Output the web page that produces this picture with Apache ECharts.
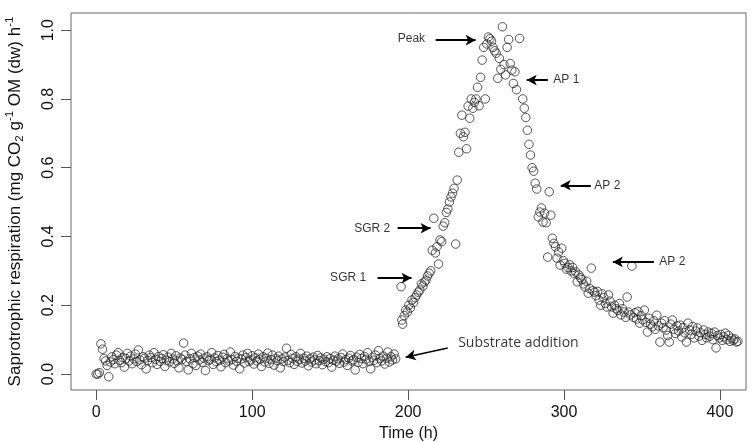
<!DOCTYPE html>
<html><head><meta charset="utf-8">
<script src="https://cdn.jsdelivr.net/npm/echarts@6/dist/echarts.min.js"></script>
<style>html,body{margin:0;padding:0;background:#fff}#c{width:753px;height:443px}</style>
</head><body><div id="c"></div>
<script>
// Axis ticks
const xTicks = [0, 100, 200, 300, 400];
const yTicks = [0, 0.2, 0.4, 0.6, 0.8, 1.0];

// Baseline (hourly, from t = 0 h), values in mg CO2 g-1 OM (dw) h-1
const baselineValues = [
  0.000, 0.000, 0.004,
  0.088, 0.072, 0.045, 0.038, 0.025, -0.008, 0.035, 0.050, 0.042, 0.030,
  0.055, 0.062, 0.040, 0.033, 0.048, 0.020, 0.045, 0.060, 0.038, 0.052,
  0.030, 0.044, 0.058, 0.036, 0.070, 0.041, 0.027, 0.050, 0.046, 0.015,
  0.039, 0.055, 0.048, 0.033, 0.062, 0.043, 0.028, 0.051, 0.037, 0.045,
  0.056, 0.022, 0.040, 0.049, 0.035, 0.060, 0.044, 0.031, 0.053, 0.038,
  0.018, 0.047, 0.042, 0.090, 0.055, 0.036, 0.012, 0.044, 0.060, 0.030,
  0.048, 0.025, 0.052, 0.041, 0.058, 0.034, 0.046, 0.010, 0.050, 0.039,
  0.043, 0.062, 0.028, 0.047, 0.036, 0.054, 0.040, 0.021, 0.049, 0.057,
  0.033, 0.045, 0.038, 0.064, 0.042, 0.026, 0.051, 0.037, 0.046, 0.015,
  0.044, 0.055, 0.032, 0.048, 0.060, 0.036, 0.041, 0.053, 0.029, 0.047,
  0.038, 0.058, 0.043, 0.022, 0.050, 0.035, 0.046, 0.061, 0.031, 0.042,
  0.055, 0.026, 0.045, 0.039, 0.052, 0.018, 0.044, 0.036, 0.049, 0.075,
  0.040, 0.033, 0.057, 0.045, 0.028, 0.050, 0.037, 0.043, 0.060, 0.032,
  0.046, 0.038, 0.052, 0.024, 0.044, 0.035, 0.049, 0.041, 0.030, 0.054,
  0.039, 0.047, 0.027, 0.043, 0.036, 0.050, 0.033, 0.045, 0.020, 0.040,
  0.052, 0.037, 0.044, 0.031, 0.048, 0.058, 0.035, 0.042, 0.025, 0.046,
  0.054, 0.038, 0.041, 0.012, 0.049, 0.034, 0.057, 0.045, 0.030, 0.051,
  0.043, 0.062, 0.036, 0.015, 0.048, 0.040, 0.055, 0.033, 0.068, 0.045,
  0.038, 0.052, 0.029, 0.046, 0.064, 0.035, 0.050, 0.041, 0.058, 0.044
];

// Response after substrate addition: [time (h), value]
const risePoints = [
  [195.5,0.254],[196,0.157],[196.5,0.145],[197.5,0.170],[198.5,0.186],[199.5,0.180],
  [200.5,0.200],[201.5,0.192],[202.5,0.215],[203.5,0.208],[204.5,0.222],[205.5,0.230],
  [206.5,0.238],[207.5,0.244],[208.5,0.262],[209.5,0.256],[210.5,0.268],[211.5,0.273],
  [212.5,0.285],[213.5,0.293],[214.5,0.300],[215.5,0.360],[216.5,0.453],[217.5,0.352],
  [218.5,0.370],[219.5,0.320],[220.5,0.390],[221.5,0.385],[222.5,0.430],[223.5,0.440],
  [224.5,0.470],[225.5,0.480],[226.5,0.500],[227.5,0.515],[228.5,0.526],[229.5,0.540],
  [230.5,0.378],[231.5,0.564],[232.5,0.645],[233.5,0.700],[234.5,0.753],[235.5,0.690],
  [236.5,0.703],[237.5,0.655]
];
const peakPoints = [
  [238.5,0.779],[239.5,0.744],[240.5,0.800],[241.5,0.773],[242.5,0.790],[243.5,0.800],
  [244.5,0.834],[245.5,0.780],[246.5,0.863],[247.5,0.913],[248.5,0.950],[249.5,0.800],
  [250.5,0.960],[251.5,0.980],[252.5,0.975],[253.5,0.968],[254.5,0.950],[255.5,0.940],
  [256.5,0.933],[257.5,0.860],[258.5,0.918],[259.5,0.886],[260.5,1.010],[261.5,0.900],
  [262.5,0.870],[263.5,0.950],[264.5,0.973],[265.5,0.903],[266.5,0.884],[267.5,0.845],
  [268.5,0.879],[269.5,0.827],[271.5,0.976]
];
const decayPoints = [
  [273.5,0.800],[274.5,0.773],[275.5,0.746],[276.5,0.709],[277.5,0.668],[278.5,0.637],
  [279.5,0.600],[280.5,0.590],[281.5,0.555],[282.5,0.538],[283.5,0.457],[284.5,0.471],
  [285.5,0.483],[286.5,0.442],[287.5,0.468],[288.5,0.440],[289.5,0.340],[290.5,0.530],
  [291.5,0.462],[292.5,0.395],[293.5,0.380],[294.5,0.370],[295.5,0.337],[296.5,0.355],
  [297.5,0.317],[298.5,0.366],[299.5,0.330],[300.5,0.322],[301.5,0.305],[302.5,0.310],
  [303.5,0.318],[304.5,0.300],[305.5,0.310],[306.5,0.292],[307.5,0.297],[308.5,0.268],
  [309.5,0.288],[310.5,0.280],[311.5,0.275],[312.5,0.262],[313.5,0.253],[314.5,0.270],
  [315.5,0.235],[316.5,0.248],[317.5,0.308],[318.5,0.242],[319.5,0.238],[320.5,0.228],
  [321.5,0.240],[322.5,0.215],[323.5,0.200],[324.5,0.233],[325.5,0.222],[326.5,0.205],
  [327.5,0.195],[328.5,0.230],[329.5,0.212],[330.5,0.195],[331.5,0.177],[332.5,0.200],
  [333.5,0.190],[334.5,0.185],[335.5,0.205],[336.5,0.172],[337.5,0.190],[338.5,0.180],
  [339.5,0.165],[340.5,0.224],[341.5,0.180],[342.5,0.172],[343.5,0.314],[344.5,0.165],
  [345.5,0.178],[346.5,0.160],[347.5,0.182],[348.5,0.148],[349.5,0.170],[350.5,0.158],
  [351.5,0.186],[352.5,0.150],[353.5,0.122],[354.5,0.162],[355.5,0.145],[356.5,0.137],
  [357.5,0.155],[358.5,0.130],[359.5,0.171],[360.5,0.140],[361.5,0.093],[362.5,0.148],
  [363.5,0.135],[364.5,0.155],[365.5,0.128],[366.5,0.112],[367.5,0.093],[368.5,0.145],
  [369.5,0.157],[370.5,0.130],[371.5,0.118],[372.5,0.140],[373.5,0.125],[374.5,0.142],
  [375.5,0.108],[376.5,0.135],[377.5,0.120],[378.5,0.093],[379.5,0.148],[380.5,0.128],
  [381.5,0.115],[382.5,0.138],[383.5,0.105],[384.5,0.125],[385.5,0.134],[386.5,0.110],
  [387.5,0.120],[388.5,0.098],[389.5,0.128],[390.5,0.115],[391.5,0.105],[392.5,0.122],
  [393.5,0.110],[394.5,0.118],[395.5,0.100],[396.5,0.122],[397.5,0.076],[398.5,0.112],
  [399.5,0.105],[400.5,0.115],[401.5,0.098],[402.5,0.108],[403.5,0.119],[404.5,0.100],
  [405.5,0.112],[406.5,0.095],[407.5,0.104],[408.5,0.098],[409.5,0.102],[410.5,0.093],
  [411.5,0.095]
];

// Annotations (data coordinates)
const arrowStarts = [[217.7,0.971],[289.6,0.855],[317.2,0.549],[357.6,0.326],[193.3,0.424],[180.4,0.279]];
const arrowEnds   = [[243.3,0.971],[276.1,0.855],[297.9,0.549],[331.3,0.326],[214.4,0.424],[202.2,0.279]];
const subArrowStart = [225.4,0.0756];
const subArrowEnd = [198.4,0.049];
const noteTexts = ['Peak','AP 1','AP 2','AP 2','SGR 2','SGR 1'];
const noteAnchors = [[211.2,0.975],[292.8,0.855],[319.1,0.549],[360.8,0.326],[188.8,0.424],[173.4,0.279]];
const noteSides = ['left','right','right','right','left','left'];
const subText = 'Substrate addition';
const subAnchor = [231.8,0.090];

const baselinePoints = baselineValues.map((v, i) => [i, v]);
const allPoints = baselinePoints.concat(risePoints, peakPoints, decayPoints);

const chart = echarts.init(document.getElementById('c'), null, {renderer: 'canvas'});
const FONT = 'Liberation Sans, Arial, Helvetica, sans-serif';

const arrowData = arrowStarts.map((s, i) => [{coord: s}, {coord: arrowEnds[i]}]);
const noteData = noteAnchors.map((a, i) => ({
  value: a,
  label: {show: true, formatter: noteTexts[i], position: noteSides[i], distance: 0,
    fontSize: 12, fontFamily: FONT, color: '#000'}
}));
noteData.push({value: subAnchor, label: {show: true, formatter: subText, position: 'right', distance: 0,
  fontSize: 14, fontFamily: 'Open Sans, sans-serif', color: '#000'}});

chart.setOption({
  animation: false,
  backgroundColor: '#fff',
  grid: {left: 71, top: 13, right: 7, bottom: 53, containLabel: false, outerBoundsMode: 'none',
    show: true, borderColor: '#666', borderWidth: 1, backgroundColor: 'transparent'},
  xAxis: {
    type: 'value', min: -16.2, max: 416.7,
    name: 'Time (h)', nameLocation: 'middle', nameGap: 34,
    nameTextStyle: {fontSize: 16, fontFamily: FONT, color: '#111'},
    axisLine: {show: false, onZero: false},
    axisTick: {show: true, inside: false, length: 10, lineStyle: {color: '#555'}, customValues: xTicks},
    axisLabel: {fontSize: 16, fontFamily: FONT, color: '#111', margin: 15, customValues: xTicks},
    splitLine: {show: false}
  },
  yAxis: {
    type: 'value', min: -0.0465, max: 1.050,
    name: 'Saprotrophic respiration (mg CO{sub|2} g{sup|-1} OM (dw) h{sup|-1}',
    nameLocation: 'middle', nameRotate: 90, nameGap: 45,
    nameTextStyle: {fontSize: 17, fontFamily: FONT, color: '#111', lineHeight: 22,
      rich: {
        sub: {fontSize: 11.5, fontFamily: FONT, color: '#111', verticalAlign: 'bottom', lineHeight: 22},
        sup: {fontSize: 11.5, fontFamily: FONT, color: '#111', verticalAlign: 'top', lineHeight: 22}
      }},
    axisLine: {show: false, onZero: false},
    axisTick: {show: true, inside: false, length: 10, lineStyle: {color: '#555'}, customValues: yTicks},
    axisLabel: {fontSize: 16, fontFamily: FONT, color: '#111', margin: 14, rotate: 90,
      customValues: yTicks, formatter: v => v.toFixed(1)},
    splitLine: {show: false}
  },
  series: [
    {
      type: 'scatter', data: allPoints, symbol: 'circle', symbolSize: 8.5,
      itemStyle: {color: 'rgba(0,0,0,0)', borderColor: '#2a2a2a', borderWidth: 1},
      silent: true,
      markLine: {
        silent: true, symbol: ['none', 'arrow'], symbolSize: [8, 10],
        lineStyle: {color: '#000', width: 2, type: 'solid'},
        label: {show: false},
        data: arrowData.concat([[{coord: subArrowStart, lineStyle: {width: 1.5}}, {coord: subArrowEnd}]])
      }
    },
    {
      type: 'scatter', data: noteData, symbolSize: 1,
      itemStyle: {color: 'rgba(0,0,0,0)'}, silent: true
    }
  ]
});
</script>
</body></html>
